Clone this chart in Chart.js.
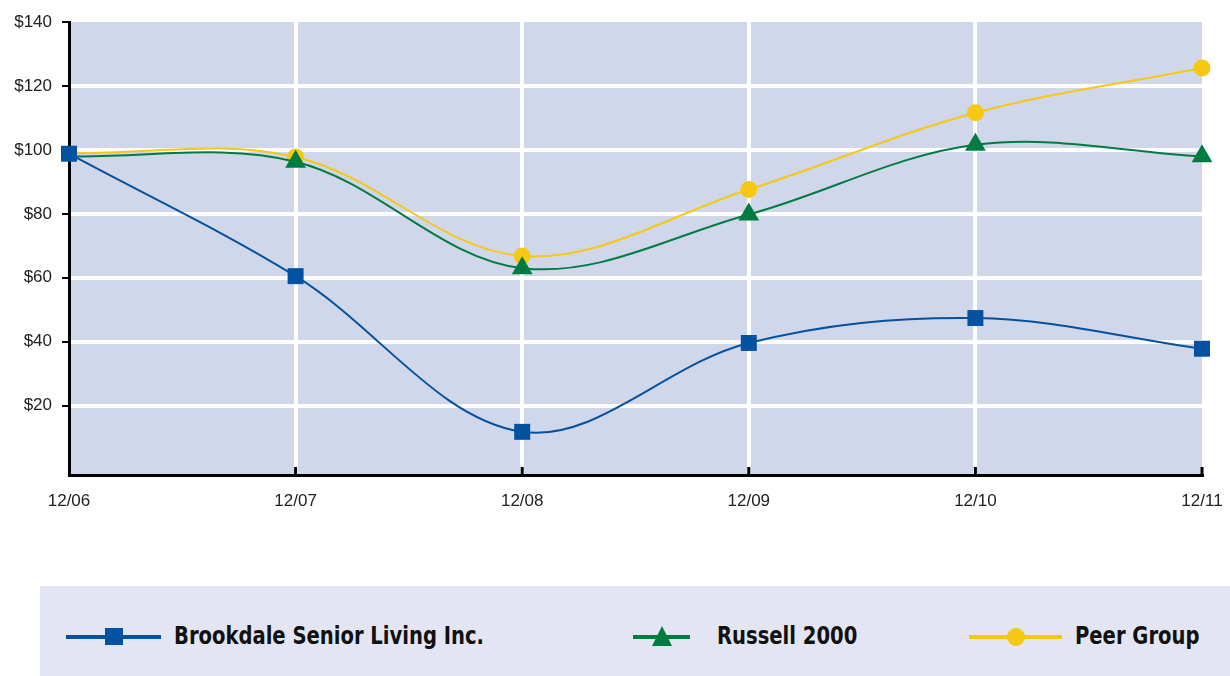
<!DOCTYPE html>
<html>
<head>
<meta charset="utf-8">
<script src="https://cdn.jsdelivr.net/npm/chart.js@4.4.1/dist/chart.umd.min.js"></script>
<style>
  html, body { margin: 0; padding: 0; background: #fff; }
  #wrap { position: relative; width: 1230px; height: 676px; }
  #chartBox { position: absolute; left: 0; top: 0; width: 1230px; height: 540px; }
  #legend { position: absolute; left: 40px; top: 586px; width: 1190px; height: 90px; background: #e3e6f2; }
  .line { position: absolute; top: 49px; height: 4px; }
  .mark { position: absolute; }
  .label { position: absolute; top: 33px; font-family: "DejaVu Sans Condensed", "Liberation Sans", sans-serif; font-weight: bold; font-size: 25px; line-height: 34px; color: #111; white-space: nowrap; transform: scaleX(0.87); transform-origin: 0 50%; }
</style>
</head>
<body>
<div id="wrap">
  <div id="chartBox"><canvas id="myChart"></canvas></div>
  <div id="legend"></div>
</div>
<script>
const categories = ["12/06", "12/07", "12/08", "12/09", "12/10", "12/11"];
const brookdale = [98.8, 60.5, 11.8, 39.6, 47.4, 37.8];
const russell = [98, 96.3, 63, 79.8, 101.6, 98];
const peerGroup = [99, 97.8, 66.8, 87.6, 111.6, 125.6];
const yTicks = [20, 40, 60, 80, 100, 120, 140];

const blue = "#0352a0";
const green = "#007c42";
const yellow = "#f6c814";

// plot background + small inner ticks on the bottom axis
const areaPlugin = {
  id: "areaPlugin",
  beforeDraw(chart) {
    const a = chart.chartArea;
    const ctx = chart.ctx;
    ctx.save();
    ctx.fillStyle = "#d0d7ea";
    ctx.fillRect(a.left, a.top, a.right - a.left, a.bottom - a.top);
    ctx.restore();
  },
  afterDatasetsDraw(chart) {
    const a = chart.chartArea;
    const ctx = chart.ctx;
    const x = chart.scales.x;
    ctx.save();
    ctx.fillStyle = "#000";
    x.ticks.forEach((t, i) => {
      if (i === 0) return;
      const px = x.getPixelForTick(i);
      ctx.fillRect(px - 1.5, a.bottom - 8, 3, 8);
    });
    ctx.restore();
  }
};

new Chart("myChart", {
  type: "line",
  data: {
    labels: categories,
    datasets: [{
      label: "Brookdale Senior Living Inc.",
      data: brookdale,
      borderColor: blue,
      backgroundColor: blue,
      borderWidth: 2,
      pointStyle: "rect",
      pointRadius: 11.3,
      pointBorderWidth: 0,
      tension: 0.35
    }, {
      label: "Russell 2000",
      data: russell,
      borderColor: green,
      backgroundColor: green,
      borderWidth: 2,
      pointStyle: "triangle",
      pointRadius: ctx => ctx.dataIndex === 0 ? 0 : 12,
      pointBorderWidth: 0,
      tension: 0.35
    }, {
      label: "Peer Group",
      data: peerGroup,
      borderColor: yellow,
      backgroundColor: yellow,
      borderWidth: 2,
      pointStyle: "circle",
      pointRadius: ctx => ctx.dataIndex === 0 ? 0 : 8.5,
      pointBorderWidth: 0,
      tension: 0.35
    }]
  },
  options: {
    responsive: true,
    maintainAspectRatio: false,
    animation: false,
    clip: false,
    layout: { padding: { left: 0, right: 28, top: 22, bottom: 25 } },
    plugins: {
      legend: { display: false },
      tooltip: { enabled: false }
    },
    scales: {
      x: {
        offset: false,
        afterFit(scale) {
          scale.height = 40;
          scale.paddingLeft = 0;
          scale.paddingRight = 0;
        },
        grid: {
          color: ctx => (ctx.index === 0 || ctx.index === categories.length - 1) ? "rgba(0,0,0,0)" : "#ffffff",
          lineWidth: 4,
          drawTicks: false
        },
        border: { color: "#000", width: 3 },
        ticks: {
          padding: 16,
          maxRotation: 0,
          color: "#222",
          font: { family: "Liberation Sans, Arial, sans-serif", size: 17 }
        }
      },
      y: {
        min: -1.7,
        max: 140,
        afterFit(scale) { scale.width = 69; },
        afterBuildTicks(scale) { scale.ticks = yTicks.map(v => ({ value: v })); },
        grid: {
          color: ctx => ctx.tick && ctx.tick.value === 140 ? "rgba(0,0,0,0)" : "#ffffff",
          lineWidth: 4,
          tickColor: "#000",
          tickWidth: 2,
          tickLength: 7
        },
        border: { color: "#000", width: 3 },
        ticks: {
          padding: 10,
          color: "#222",
          font: { family: "Liberation Sans, Arial, sans-serif", size: 17 },
          callback: v => "$" + v
        }
      }
    }
  },
  plugins: [areaPlugin]
});

// legend below the chart
const legendItems = [
  { label: "Brookdale Senior Living Inc.", color: blue, shape: "square", lineX: 26, lineW: 95, textX: 134 },
  { label: "Russell 2000", color: green, shape: "triangle", lineX: 593, lineW: 57, textX: 677 },
  { label: "Peer Group", color: yellow, shape: "circle", lineX: 929, lineW: 93, textX: 1035 }
];
const legend = document.getElementById("legend");
legendItems.forEach(it => {
  const line = document.createElement("div");
  line.className = "line";
  line.style.left = it.lineX + "px";
  line.style.width = it.lineW + "px";
  line.style.background = it.color;
  legend.appendChild(line);

  const mark = document.createElement("div");
  mark.className = "mark";
  const cx = it.lineX + it.lineW / 2;
  if (it.shape === "square") {
    mark.style.left = (cx - 9) + "px"; mark.style.top = "42px";
    mark.style.width = "18px"; mark.style.height = "17px"; mark.style.background = it.color;
  } else if (it.shape === "circle") {
    mark.style.left = (cx - 9) + "px"; mark.style.top = "42px";
    mark.style.width = "18px"; mark.style.height = "18px"; mark.style.borderRadius = "50%"; mark.style.background = it.color;
  } else {
    mark.style.left = (cx - 10) + "px"; mark.style.top = "40px";
    mark.style.width = "0"; mark.style.height = "0";
    mark.style.borderLeft = "10px solid transparent";
    mark.style.borderRight = "10px solid transparent";
    mark.style.borderBottom = "20px solid " + it.color;
  }
  legend.appendChild(mark);

  const text = document.createElement("div");
  text.className = "label";
  text.style.left = it.textX + "px";
  text.textContent = it.label;
  legend.appendChild(text);
});
</script>
</body>
</html>
